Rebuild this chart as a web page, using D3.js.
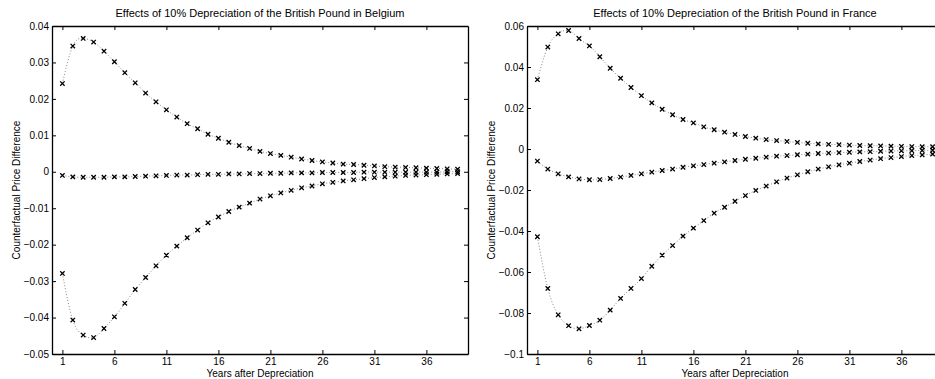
<!DOCTYPE html>
<html>
<head>
<meta charset="utf-8">
<script src="https://cdn.jsdelivr.net/npm/d3@7"></script>
<style>
  html, body { margin: 0; padding: 0; background: #fff; }
  svg { display: block; font-family: "Liberation Sans", Arial, Helvetica, sans-serif; }
</style>
</head>
<body>
<svg id="chart" width="935" height="379"></svg>
<script>
// ---------- data ----------
const years = d3.range(1, 40); // 1..39
const xTicks = [1, 6, 11, 16, 21, 26, 31, 36];

const belgiumTitle = "Effects of 10% Depreciation of the British Pound in Belgium";
const franceTitle = "Effects of 10% Depreciation of the British Pound in France";
const xLabel = "Years after Depreciation";
const yLabel = "Counterfactual Price Difference";

const belgiumYTicks = [0.04, 0.03, 0.02, 0.01, 0, -0.01, -0.02, -0.03, -0.04, -0.05];
const franceYTicks = [0.06, 0.04, 0.02, 0, -0.02, -0.04, -0.06, -0.08, -0.1];

const belgiumUpper = [0.0242, 0.0345, 0.0366, 0.0356, 0.0331, 0.0302, 0.0272, 0.0244, 0.0216, 0.0192,
  0.0170, 0.0150, 0.0132, 0.0118, 0.0103, 0.0092, 0.0081, 0.0072, 0.0064, 0.0056,
  0.0050, 0.0045, 0.0040, 0.0035, 0.0031, 0.0027, 0.0024, 0.0021, 0.0020, 0.0018,
  0.0016, 0.0014, 0.0013, 0.0012, 0.0011, 0.0010, 0.0009, 0.0008, 0.0007];
const belgiumMiddle = [-0.0010, -0.0014, -0.0015, -0.0015, -0.0015, -0.0014, -0.0014, -0.0013, -0.0012, -0.0011,
  -0.0010, -0.0009, -0.0009, -0.0008, -0.0007, -0.0007, -0.0006, -0.0006, -0.0005, -0.0005,
  -0.0004, -0.0004, -0.0003, -0.0003, -0.0003, -0.0002, -0.0002, -0.0002, -0.0002, -0.0001,
  -0.0001, -0.0001, -0.0001, -0.0001, -0.0001, -0.0001, -0.0001, 0.0000, 0.0000];
const belgiumLower = [-0.0279, -0.0407, -0.0448, -0.0455, -0.0430, -0.0398, -0.0361, -0.0323, -0.0290, -0.0258,
  -0.0229, -0.0204, -0.0181, -0.0160, -0.0140, -0.0124, -0.0109, -0.0097, -0.0086, -0.0075,
  -0.0066, -0.0058, -0.0051, -0.0044, -0.0039, -0.0033, -0.0029, -0.0025, -0.0022, -0.0019,
  -0.0016, -0.0014, -0.0012, -0.0010, -0.0009, -0.0008, -0.0007, -0.0006, -0.0005];

const franceUpper = [0.0338, 0.0497, 0.0562, 0.0578, 0.0539, 0.0503, 0.0450, 0.0394, 0.0345, 0.0300,
  0.0260, 0.0225, 0.0194, 0.0167, 0.0144, 0.0127, 0.0108, 0.0094, 0.0082, 0.0071,
  0.0061, 0.0053, 0.0046, 0.0041, 0.0037, 0.0032, 0.0028, 0.0025, 0.0023, 0.0021,
  0.0019, 0.0017, 0.0016, 0.0015, 0.0014, 0.0013, 0.0012, 0.0011, 0.0011];
const franceMiddle = [-0.0059, -0.0098, -0.0121, -0.0136, -0.0146, -0.0150, -0.0149, -0.0144, -0.0137, -0.0129,
  -0.0121, -0.0113, -0.0105, -0.0098, -0.0089, -0.0082, -0.0076, -0.0069, -0.0063, -0.0056,
  -0.0050, -0.0045, -0.0040, -0.0035, -0.0032, -0.0028, -0.0025, -0.0022, -0.0020, -0.0018,
  -0.0016, -0.0014, -0.0013, -0.0011, -0.0010, -0.0009, -0.0008, -0.0007, -0.0006];
const franceLower = [-0.0428, -0.0680, -0.0809, -0.0862, -0.0877, -0.0861, -0.0835, -0.0786, -0.0729, -0.0680,
  -0.0632, -0.0572, -0.0518, -0.0471, -0.0425, -0.0386, -0.0349, -0.0313, -0.0284, -0.0255,
  -0.0227, -0.0202, -0.0181, -0.0160, -0.0142, -0.0126, -0.0111, -0.0098, -0.0087, -0.0077,
  -0.0069, -0.0061, -0.0054, -0.0047, -0.0042, -0.0037, -0.0032, -0.0029, -0.0025];

// ---------- drawing ----------
const svg = d3.select("#chart");
const fmt = v => v === 0 ? "0" : (v < 0 ? "\u2212" : "") + String(Math.abs(v));

function panel(opts) {
  const { left, right, top, bottom, yDomain, yTicks, title, series } = opts;
  const x = d3.scaleLinear().domain([0, 40]).range([left, right]);
  const y = d3.scaleLinear().domain(yDomain).range([bottom, top]);
  const g = svg.append("g");
  const tickLen = 4;

  // title
  g.append("text").attr("x", (left + right) / 2).attr("y", 17)
    .attr("text-anchor", "middle").attr("font-size", 11).attr("fill", "#000").text(title);

  // data lines and markers
  const line = d3.line().x((d, i) => x(years[i])).y(d => y(d)).curve(d3.curveNatural);
  series.forEach(s => {
    g.append("path").attr("d", line(s)).attr("fill", "none")
      .attr("stroke", "#7a7a7a").attr("stroke-width", 0.9).attr("stroke-dasharray", "1,2");
    const m = 2.2;
    g.selectAll(null).data(s).enter().append("path")
      .attr("d", (d, i) => {
        const cx = x(years[i]), cy = y(d);
        return `M${cx - m},${cy - m}L${cx + m},${cy + m}M${cx - m},${cy + m}L${cx + m},${cy - m}`;
      })
      .attr("stroke", "#000").attr("stroke-width", 1.3).attr("fill", "none");
  });

  // axes (box with inward ticks)
  const axB = d3.axisBottom(x).tickValues(xTicks).tickSizeInner(-tickLen).tickSizeOuter(0).tickPadding(4);
  const axT = d3.axisTop(x).tickValues(xTicks).tickSizeInner(-tickLen).tickSizeOuter(0).tickFormat("");
  const axL = d3.axisLeft(y).tickValues(yTicks).tickSizeInner(-tickLen).tickSizeOuter(0).tickPadding(3).tickFormat(fmt);
  const axR = d3.axisRight(y).tickValues(yTicks).tickSizeInner(-tickLen).tickSizeOuter(0).tickFormat("");

  const styleAxis = sel => {
    sel.selectAll("path.domain").attr("stroke", "#000").attr("stroke-width", 1.3);
    sel.selectAll(".tick line").attr("stroke", "#000").attr("stroke-width", 1);
    sel.selectAll(".tick text").attr("fill", "#000").attr("font-size", 10)
      .attr("font-family", "'Liberation Sans', Arial, sans-serif");
  };
  g.append("g").attr("transform", `translate(0,${bottom})`).call(axB).call(styleAxis);
  g.append("g").attr("transform", `translate(0,${top})`).call(axT).call(styleAxis);
  g.append("g").attr("transform", `translate(${left},0)`).call(axL).call(styleAxis);
  g.append("g").attr("transform", `translate(${right},0)`).call(axR).call(styleAxis);

  // axis labels
  g.append("text").attr("x", (left + right) / 2).attr("y", 377)
    .attr("text-anchor", "middle").attr("font-size", 10).attr("fill", "#000").text(xLabel);
  g.append("text")
    .attr("transform", `translate(${left - 32},${(top + bottom) / 2}) rotate(-90)`)
    .attr("text-anchor", "middle").attr("font-size", 10).attr("fill", "#000").text(yLabel);
}

panel({
  left: 52, right: 468, top: 26, bottom: 354,
  yDomain: [-0.05, 0.04], yTicks: belgiumYTicks, title: belgiumTitle,
  series: [belgiumUpper, belgiumMiddle, belgiumLower]
});
panel({
  left: 527, right: 943, top: 26, bottom: 354,
  yDomain: [-0.1, 0.06], yTicks: franceYTicks, title: franceTitle,
  series: [franceUpper, franceMiddle, franceLower]
});
</script>
</body>
</html>
